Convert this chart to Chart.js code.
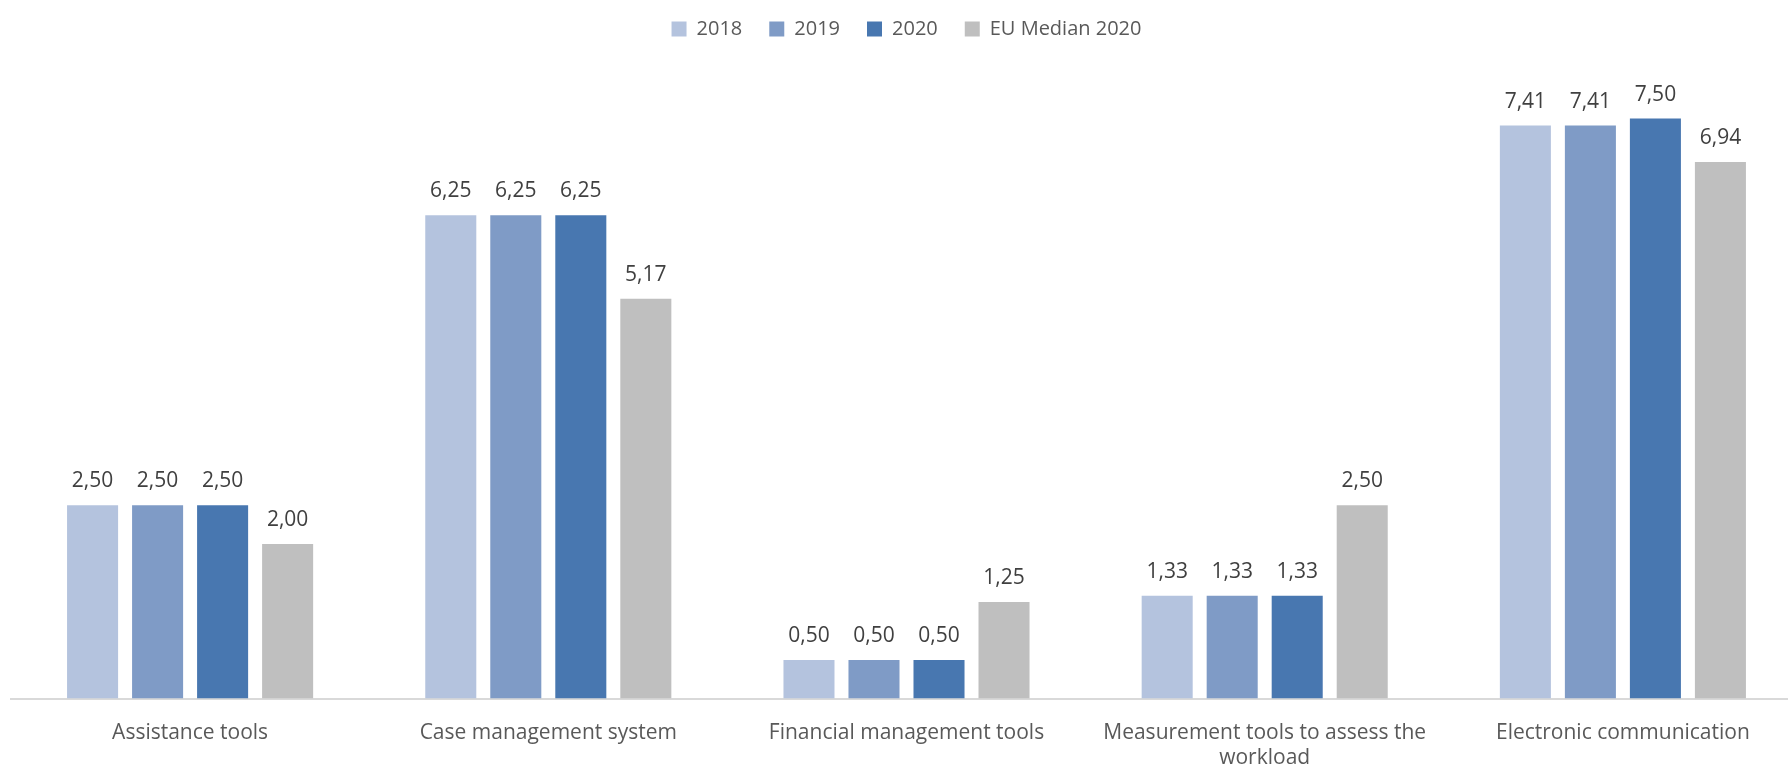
<!DOCTYPE html>
<html lang="en">
<head>
  <meta charset="UTF-8" />
  <title>Tools chart</title>
  <script src="https://cdn.jsdelivr.net/npm/chart.js"></script>
  <style>
    html, body {
      margin: 0;
      padding: 0;
      background: #ffffff;
      overflow: hidden;
    }
    #wrap {
      width: 1788px;
      height: 766px;
      overflow: hidden;
    }
  </style>
</head>
<body>
  <div id="wrap"><canvas id="chart" width="1802" height="766"></canvas></div>

  <script>
    const categories = [
      "Assistance tools",
      "Case management system",
      "Financial management tools",
      ["Measurement tools to assess the", "workload"],
      "Electronic communication"
    ];
    const seriesNames = ["2018", "2019", "2020", "EU Median 2020"];
    const values2018 = [2.50, 6.25, 0.50, 1.33, 7.41];
    const values2019 = [2.50, 6.25, 0.50, 1.33, 7.41];
    const values2020 = [2.50, 6.25, 0.50, 1.33, 7.50];
    const valuesEU = [2.00, 5.17, 1.25, 2.50, 6.94];
    const colors = ["#b4c3de", "#7f9bc6", "#4877b0", "#bfbfbf"];

    const fontFamily = "'Open Sans', sans-serif";

    // draw the value above each bar, with a decimal comma
    const valueLabels = {
      id: "valueLabels",
      afterDatasetsDraw(chart) {
        const ctx = chart.ctx;
        ctx.save();
        ctx.font = "21px " + fontFamily;
        ctx.fillStyle = "#404040";
        ctx.textAlign = "center";
        ctx.textBaseline = "middle";
        chart.data.datasets.forEach((ds, i) => {
          chart.getDatasetMeta(i).data.forEach((bar, j) => {
            const txt = ds.data[j].toFixed(2).replace(".", ",");
            ctx.fillText(txt, bar.x, bar.y - 24);
          });
        });
        ctx.restore();
      }
    };

    const allValues = [values2018, values2019, values2020, valuesEU];

    new Chart(document.getElementById("chart"), {
      type: "bar",
      data: {
        labels: categories,
        datasets: seriesNames.map((name, i) => ({
          label: name,
          data: allValues[i],
          backgroundColor: colors[i],
          borderWidth: 0,
          categoryPercentage: 0.726,
          barPercentage: 0.785
        }))
      },
      options: {
        responsive: false,
        animation: false,
        layout: {
          padding: { left: 11, right: 0, top: -8, bottom: -19 }
        },
        plugins: {
          legend: {
            position: "top",
            labels: {
              boxWidth: 15,
              boxHeight: 15,
              padding: 27,
              color: "#595959",
              font: { family: fontFamily, size: 20 }
            }
          },
          tooltip: { enabled: false }
        },
        scales: {
          x: {
            grid: { display: false },
            border: { color: "#d9d9d9", width: 2 },
            ticks: {
              color: "#595959",
              font: { family: fontFamily, size: 21 },
              padding: 14,
              maxRotation: 0,
              autoSkip: false
            }
          },
          y: {
            display: false,
            min: 0,
            max: 8.40
          }
        }
      },
      plugins: [valueLabels]
    });
  </script>
</body>
</html>
